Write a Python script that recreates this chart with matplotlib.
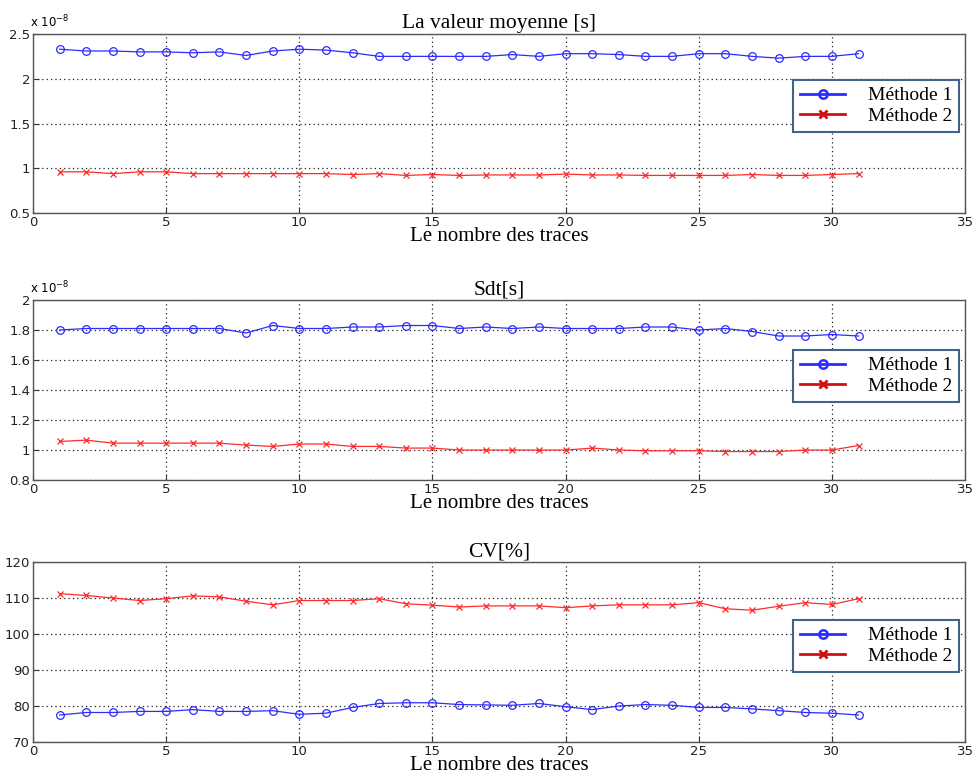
import matplotlib.pyplot as plt
from matplotlib.lines import Line2D

# number of traces
traces = list(range(1, 32))

# mean value (x 1e-8 s)
mean_m1 = [2.33, 2.31, 2.31, 2.30, 2.30, 2.29, 2.30, 2.26, 2.31, 2.33, 2.32, 2.29, 2.25, 2.25, 2.25, 2.25,
           2.25, 2.27, 2.25, 2.28, 2.28, 2.27, 2.25, 2.25, 2.28, 2.28, 2.25, 2.23, 2.25, 2.25, 2.28]
mean_m2 = [0.96, 0.96, 0.94, 0.96, 0.96, 0.94, 0.94, 0.94, 0.94, 0.94, 0.94, 0.93, 0.94, 0.92, 0.93, 0.92,
           0.925, 0.925, 0.925, 0.935, 0.925, 0.925, 0.92, 0.92, 0.92, 0.92, 0.93, 0.92, 0.92, 0.93, 0.94]

# standard deviation (x 1e-8 s)
std_m1 = [1.80, 1.81, 1.81, 1.81, 1.81, 1.81, 1.81, 1.78, 1.83, 1.81, 1.81, 1.82, 1.82, 1.83, 1.83, 1.81,
          1.82, 1.81, 1.82, 1.81, 1.81, 1.81, 1.82, 1.82, 1.80, 1.81, 1.79, 1.76, 1.76, 1.77, 1.76]
std_m2 = [1.057, 1.066, 1.046, 1.046, 1.046, 1.046, 1.046, 1.033, 1.024, 1.04, 1.04, 1.024, 1.024, 1.013, 1.013, 1.0,
          1.0, 1.0, 1.0, 1.0, 1.013, 1.0, 0.995, 0.995, 0.995, 0.99, 0.99, 0.99, 1.0, 1.0, 1.03]

# coefficient of variation (%)
cv_m1 = [77.5, 78.2, 78.2, 78.5, 78.5, 79.0, 78.5, 78.5, 78.7, 77.7, 78.0, 79.6, 80.7, 80.9, 80.9, 80.4,
         80.3, 80.2, 80.7, 79.8, 79.0, 80.0, 80.4, 80.2, 79.6, 79.6, 79.2, 78.7, 78.2, 78.0, 77.5]
cv_m2 = [111.2, 110.7, 110.0, 109.3, 109.8, 110.6, 110.3, 109.1, 108.1, 109.3, 109.3, 109.3, 109.8, 108.4, 108.0, 107.5,
         107.8, 107.8, 107.8, 107.3, 107.8, 108.1, 108.1, 108.1, 108.7, 107.0, 106.6, 107.7, 108.7, 108.2, 109.8]

titles = ['La valeur moyenne [s]', 'Sdt[s]', 'CV[%]']
labels = ['Méthode 1', 'Méthode 2']

blue = '#2b2bff'
red = '#ff2a2a'
serif = 'Liberation Serif'

fig = plt.figure(figsize=(9.76, 7.76), dpi=100)
rects = [[0.0338, 0.7255, 0.955, 0.2307],
         [0.0338, 0.3814, 0.955, 0.2320],
         [0.0338, 0.0438, 0.955, 0.2320]]
series = [(mean_m1, mean_m2), (std_m1, std_m2), (cv_m1, cv_m2)]
ylims = [(0.5, 2.5), (0.8, 2.0), (70, 120)]
yticks = [[0.5, 1, 1.5, 2, 2.5], [0.8, 1, 1.2, 1.4, 1.6, 1.8, 2], [70, 80, 90, 100, 110, 120]]
yticklabels = [['0.5', '1', '1.5', '2', '2.5'], ['0.8', '1', '1.2', '1.4', '1.6', '1.8', '2'],
               ['70', '80', '90', '100', '110', '120']]
leg_top = [0.743, 0.722, 0.678]

for i in range(3):
    ax = fig.add_axes(rects[i])
    s1, s2 = series[i]
    ax.plot(traces, s1, color=blue, lw=0.9, marker='o', ms=5.5, mfc='none', mew=0.9)
    ax.plot(traces, s2, color=red, lw=0.9, marker='x', ms=4.5, mew=0.9)
    ax.set_xlim(0, 35)
    ax.set_ylim(*ylims[i])
    ax.set_xticks(range(0, 36, 5))
    ax.set_yticks(yticks[i])
    ax.set_yticklabels(yticklabels[i])
    ax.tick_params(direction='in', labelsize=9.5, length=4, color='#333333', labelcolor='#222222', pad=2)
    ax.grid(True, color='#222222', linestyle=(0, (1, 2.5)), lw=0.9)
    for sp in ax.spines.values():
        sp.set_color('#555555')
        sp.set_linewidth(1.0)
    ax.set_title(titles[i], fontfamily=serif, fontsize=15.5, pad=4)
    ax.set_xlabel('Le nombre des traces', fontfamily=serif, fontsize=15, labelpad=-1)
    if i < 2:
        ax.text(-0.003, 1.02, r'x 10$^{-8}$', transform=ax.transAxes, fontsize=8.5, va='bottom', ha='left')

    handles = [Line2D([], [], color=blue, lw=2, marker='o', ms=6, mfc='none', mew=1.8),
               Line2D([], [], color='#d01010', lw=2, marker='x', ms=6, mew=2)]
    leg = ax.legend(handles, labels, loc='upper right', bbox_to_anchor=(0.994, leg_top[i]),
                    borderaxespad=0, fancybox=False, framealpha=1, edgecolor='#41638a',
                    prop={'family': serif, 'size': 14}, handlelength=2.3,
                    labelspacing=0.15, borderpad=0.35, handletextpad=1.2)
    leg.get_frame().set_linewidth(1.5)

plt.savefig('out.png', dpi=100)
